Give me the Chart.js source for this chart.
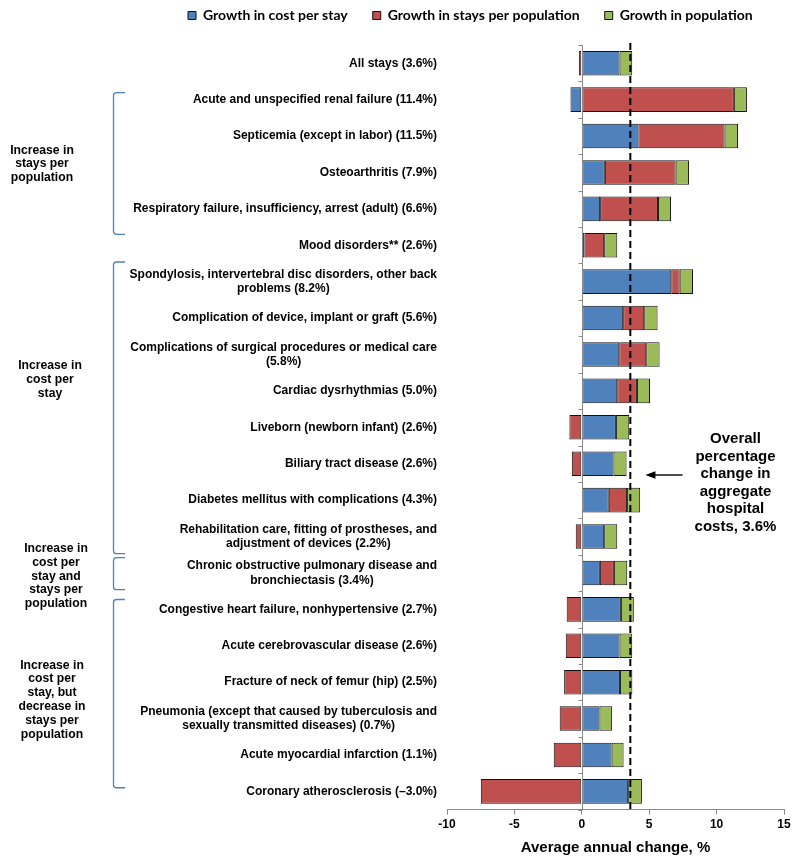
<!DOCTYPE html>
<html>
<head>
<meta charset="utf-8">
<script src="https://cdn.jsdelivr.net/npm/chart.js@4/dist/chart.umd.min.js"></script>
<style>
  html, body { margin: 0; padding: 0; background: #ffffff; }
  #wrap { width: 800px; height: 862px; position: relative; }
</style>
</head>
<body>
<div id="wrap"><canvas id="c" width="800" height="862"></canvas></div>
<script>
// ---------------- data ----------------
const categories = [
  "All stays (3.6%)",
  "Acute and unspecified renal failure (11.4%)",
  "Septicemia (except in labor) (11.5%)",
  "Osteoarthritis (7.9%)",
  "Respiratory failure, insufficiency, arrest (adult) (6.6%)",
  "Mood disorders** (2.6%)",
  ["Spondylosis, intervertebral disc disorders, other back", "problems (8.2%)"],
  "Complication of device, implant or graft (5.6%)",
  ["Complications of surgical procedures or medical care", "(5.8%)"],
  "Cardiac dysrhythmias (5.0%)",
  "Liveborn (newborn infant) (2.6%)",
  "Biliary tract disease (2.6%)",
  "Diabetes mellitus with complications (4.3%)",
  ["Rehabilitation care, fitting of prostheses, and", "adjustment of devices (2.2%)"],
  ["Chronic obstructive pulmonary disease and", "bronchiectasis (3.4%)"],
  "Congestive heart failure, nonhypertensive (2.7%)",
  "Acute cerebrovascular disease (2.6%)",
  "Fracture of neck of femur (hip) (2.5%)",
  ["Pneumonia (except that caused by tuberculosis and", "sexually transmitted diseases) (0.7%)"],
  "Acute myocardial infarction (1.1%)",
  "Coronary atherosclerosis (\u20133.0%)"
];
const growthCostPerStay = [2.80, -0.84, 4.20, 1.71, 1.36, 0.20, 6.64, 3.07, 2.78, 2.63, 2.53, 2.35, 2.00, 1.66, 1.34, 2.90, 2.80, 2.83, 1.31, 2.21, 3.44];
const growthStaysPerPop = [-0.22, 11.28, 6.39, 5.25, 4.29, 1.46, 0.62, 1.56, 2.00, 1.46, -0.92, -0.74, 1.36, -0.45, 1.04, -1.12, -1.19, -1.31, -1.64, -2.08, -7.49];
const growthPopulation  = [0.94, 0.97, 1.00, 0.99, 0.97, 0.97, 0.99, 0.99, 0.99, 0.97, 0.99, 0.97, 0.97, 0.97, 0.99, 0.96, 0.94, 0.92, 0.94, 0.89, 1.02];
const seriesNames = ["Growth in cost per stay", "Growth in stays per population", "Growth in population"];
const xTickMin = -10, xTickMax = 15, xTickStep = 5;
const overallChange = 3.6;
const axisTitle = "Average annual change, %";

// groups: label lines, bracket span (row positions), label centre row
const groupLabels = [
  ["Increase in", "stays per", "population"],
  ["Increase in", "cost per", "stay"],
  ["Increase in", "cost per", "stay and", "stays per", "population"],
  ["Increase in", "cost per", "stay, but", "decrease in", "stays per", "population"]
];
const groupBracketRows = [[0.81, 4.70], [5.46, 13.47], [13.58, 14.46], [14.73, 19.90]];
const groupLabelRows = [2.77, 8.69, 14.09, 17.48];
const annotationLines = ["Overall", "percentage", "change in", "aggregate", "hospital", "costs, 3.6%"];

// ---------------- styling ----------------
const COLORS = ["#4f81bd", "#c0504d", "#9bbb59"];
const AXIS_GRAY = "#8a8a8a";
const BRACKET_BLUE = "#4f81bd";
const LABEL_FONT = 'bold 12px "Liberation Sans", Arial, sans-serif';

const decor = {
  id: 'decor',
  afterLayout(chart) {
    const lg = chart.legend;
    if (lg) { lg.left = 163; lg.top = -16.5; }
  },
  afterDatasetsDraw(chart) {
    const {ctx, chartArea, scales: {x, y}} = chart;
    ctx.save();
    // zero axis line with category tick marks
    const x0 = Math.round(x.getPixelForValue(0)) + 0.5;
    ctx.strokeStyle = AXIS_GRAY;
    ctx.lineWidth = 1;
    ctx.beginPath();
    ctx.moveTo(x0, chartArea.top);
    ctx.lineTo(x0, chartArea.bottom);
    for (let i = 0; i <= categories.length; i++) {
      const yb = Math.round(y.getPixelForValue(i - 0.5)) + 0.5;
      ctx.moveTo(x0 - 4, yb);
      ctx.lineTo(x0, yb);
    }
    ctx.stroke();
    // dashed overall line
    const xd = x.getPixelForValue(overallChange);
    ctx.strokeStyle = "#000";
    ctx.lineWidth = 2;
    ctx.setLineDash([7, 4]);
    ctx.beginPath();
    ctx.moveTo(xd, chartArea.top - 2);
    ctx.lineTo(xd, chartArea.bottom);
    ctx.stroke();
    ctx.setLineDash([]);
    ctx.restore();
  },
  afterDraw(chart) {
    const {ctx, scales: {x, y}} = chart;
    ctx.save();
    // category labels: right aligned block, lines centred inside block
    ctx.font = LABEL_FONT;
    ctx.fillStyle = "#000";
    ctx.textBaseline = "middle";
    ctx.textAlign = "center";
    const rightEdge = 437;
    const lh = 14.5;
    categories.forEach((lab, i) => {
      const lines = Array.isArray(lab) ? lab : [lab];
      const w = Math.max(...lines.map(l => ctx.measureText(l).width));
      const cx = rightEdge - w / 2;
      const cy = y.getPixelForValue(i);
      lines.forEach((l, j) => {
        ctx.fillText(l, cx, cy + (j - (lines.length - 1) / 2) * lh);
      });
    });
    // brackets
    ctx.strokeStyle = BRACKET_BLUE;
    ctx.lineWidth = 1.3;
    groupBracketRows.forEach(([a, b]) => {
      const y1 = y.getPixelForValue(a), y2 = y.getPixelForValue(b);
      const bx = 113.5, ex = 125, r = 3;
      ctx.beginPath();
      ctx.moveTo(ex, y1);
      ctx.lineTo(bx + r, y1);
      ctx.quadraticCurveTo(bx, y1, bx, y1 + r);
      ctx.lineTo(bx, y2 - r);
      ctx.quadraticCurveTo(bx, y2, bx + r, y2);
      ctx.lineTo(ex, y2);
      ctx.stroke();
    });
    // group labels
    ctx.font = 'bold 12.2px "Liberation Sans", Arial, sans-serif';
    const groupX = [42, 50, 56, 52];
    groupLabels.forEach((lines, g) => {
      const cy = y.getPixelForValue(groupLabelRows[g]);
      lines.forEach((l, j) => {
        ctx.fillText(l, groupX[g], cy + (j - (lines.length - 1) / 2) * 13.8);
      });
    });
    // annotation
    ctx.font = 'bold 15px "Liberation Sans", Arial, sans-serif';
    const ax = x.getPixelForValue(11.4);
    const ay = y.getPixelForValue(11.52);
    annotationLines.forEach((l, j) => {
      ctx.fillText(l, ax, ay + (j - (annotationLines.length - 1) / 2) * 17.5);
    });
    // arrow
    const arY = y.getPixelForValue(11.31);
    const tip = x.getPixelForValue(4.72);
    const tail = x.getPixelForValue(7.47);
    ctx.strokeStyle = "#000";
    ctx.fillStyle = "#000";
    ctx.lineWidth = 1.4;
    ctx.beginPath();
    ctx.moveTo(tail, arY);
    ctx.lineTo(tip + 8, arY);
    ctx.stroke();
    ctx.beginPath();
    ctx.moveTo(tip, arY);
    ctx.lineTo(tip + 10, arY - 3.8);
    ctx.lineTo(tip + 10, arY + 3.8);
    ctx.closePath();
    ctx.fill();
    ctx.restore();
  }
};

const datasets = [growthCostPerStay, growthStaysPerPop, growthPopulation].map((vals, k) => ({
  label: seriesNames[k],
  data: vals,
  backgroundColor: COLORS[k],
  borderColor: "#111",
  borderWidth: 1,
  borderSkipped: false,
  barPercentage: 0.675,
  categoryPercentage: 1.0
}));

new Chart(document.getElementById('c'), {
  type: 'bar',
  data: { labels: categories, datasets },
  plugins: [decor],
  options: {
    indexAxis: 'y',
    responsive: false,
    animation: false,
    layout: { padding: { top: -4, left: 0, right: 16, bottom: 4 } },
    plugins: {
      tooltip: { enabled: false },
      legend: {
        position: 'top',
        align: 'start',
        labels: {
          boxWidth: 8,
          boxHeight: 8,
          padding: 25,
          color: '#000',
          font: { family: 'Lato, "Liberation Sans", sans-serif', size: 14, weight: 'bold' }
        }
      }
    },
    scales: {
      x: {
        stacked: true,
        min: xTickMin,
        max: xTickMax,
        ticks: {
          stepSize: xTickStep,
          color: '#000',
          padding: 3,
          font: { family: '"Liberation Sans", Arial, sans-serif', size: 12, weight: 'bold' }
        },
        grid: { drawOnChartArea: false, drawTicks: true, tickLength: 5, color: AXIS_GRAY },
        border: { display: true, color: AXIS_GRAY, width: 1 },
        title: {
          display: true,
          text: axisTitle,
          color: '#000',
          padding: { top: 4, bottom: 1 },
          font: { family: '"Liberation Sans", Arial, sans-serif', size: 15, weight: 'bold' }
        }
      },
      y: {
        stacked: true,
        ticks: { display: false },
        grid: { display: false },
        border: { display: false },
        afterFit(scale) { scale.width = 447; }
      }
    }
  }
});
</script>
</body>
</html>
